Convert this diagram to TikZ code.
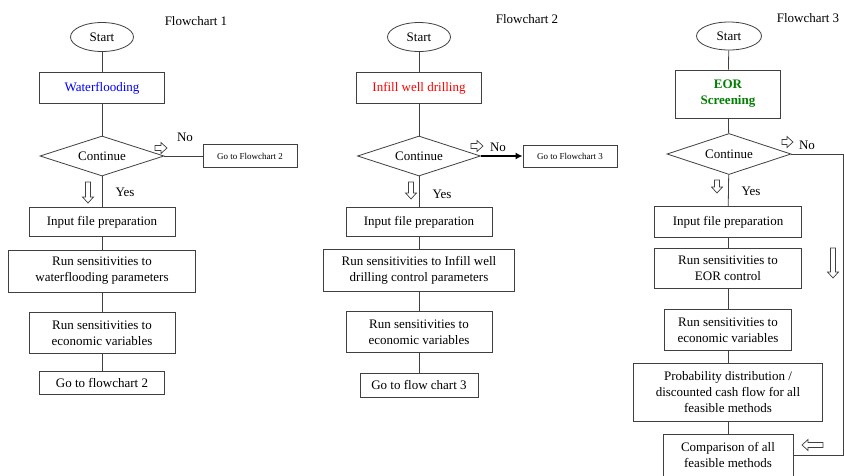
\documentclass[tikz,border=0pt]{standalone}
\usepackage{fontspec}
\setmainfont{Liberation Serif}
\usetikzlibrary{shapes.geometric,arrows.meta}
\definecolor{eorgreen}{RGB}{0,128,0}
\tikzset{
  txt/.style={font=\fontsize{13}{16}\selectfont},
  small/.style={font=\fontsize{9}{10}\selectfont},
  box/.style={draw=black!75, line width=0.8pt, rectangle, align=center, inner sep=1pt, txt},
  term/.style={draw=black!75, line width=0.8pt, ellipse, inner sep=0pt, minimum width=63pt, minimum height=29pt, txt},
  decision/.style={draw=black!75, line width=0.8pt, diamond, aspect=3, inner sep=0pt, minimum width=124pt, minimum height=40pt, txt},
  tag/.style={inner sep=0pt, txt},
  link/.style={draw=black!75, line width=0.8pt},
  harrow/.pic={\draw[draw=black!75, fill=white, line width=0.7pt] (0,-2.5) -- ({#1-6},-2.5) -- ({#1-6},-5.5) -- (#1,0) -- ({#1-6},5.5) -- ({#1-6},2.5) -- (0,2.5) -- cycle;}
}
\begin{document}
\begin{tikzpicture}[x=1pt,y=-1pt]
  \useasboundingbox[fill=white] (0,0) rectangle (844,475);

  \node[tag] (t1) at (196,21) {Flowchart 1};
  \node[term] (s1) at (102,37) {Start};
  \node[box, minimum width=125pt, minimum height=31pt, text=blue] (w1) at (102,88) {Waterflooding};
  \node[decision] (d1) at (102,156) {Continue};
  \node[box, small, minimum width=94pt, minimum height=23pt] (g1) at (250,156) {Go to Flowchart 2};
  \node[box, minimum width=146pt, minimum height=29pt] (i1) at (102,222) {Input file preparation};
  \node[box, minimum width=187pt, minimum height=42pt] (r1) at (102,271) {Run sensitivities to\\waterflooding parameters};
  \node[box, minimum width=146pt, minimum height=41pt] (e1) at (102,333) {Run sensitivities to\\economic variables};
  \node[box, minimum width=125pt, minimum height=23pt] (f1) at (102,383) {Go to flowchart 2};
  \node[tag] (n1) at (185,137) {No};
  \node[tag] (y1) at (125,192) {Yes};
  \draw[link] (s1) -- (w1);
  \draw[link] (w1) -- (d1);
  \draw[link] (d1) -- (i1);
  \draw[link] (i1) -- (r1);
  \draw[link] (r1) -- (e1);
  \draw[link] (e1) -- (f1);
  \draw[link] (d1.east) -- (g1.west);
  \pic[rotate=-90] at (88,182) {harrow=21};
  \pic at (155,148) {harrow=12};

  \node[tag] (t2) at (527,19) {Flowchart 2};
  \node[term] (s2) at (419,37) {Start};
  \node[box, minimum width=125pt, minimum height=31pt, text=red] (w2) at (419,88) {Infill well drilling};
  \node[decision, minimum width=123pt] (d2) at (419,156) {Continue};
  \node[box, small, minimum width=94pt, minimum height=22pt] (g2) at (570,156) {Go to Flowchart 3};
  \node[box, minimum width=146pt, minimum height=29pt] (i2) at (419,222) {Input file preparation};
  \node[box, minimum width=191pt, minimum height=42pt] (r2) at (419,270) {Run sensitivities to Infill well\\drilling control parameters};
  \node[box, minimum width=146pt, minimum height=41pt] (e2) at (419,332) {Run sensitivities to\\economic variables};
  \node[box, minimum width=118pt, minimum height=24pt] (f2) at (419,385) {Go to flow chart 3};
  \node[tag] (n2) at (498,147) {No};
  \node[tag] (y2) at (442,194) {Yes};
  \draw[link] (s2) -- (w2);
  \draw[link] (w2) -- (d2);
  \draw[link] (d2) -- (i2);
  \draw[link] (i2) -- (r2);
  \draw[link] (r2) -- (e2);
  \draw[link] (e2) -- (f2);
  \draw[link, draw=black, line width=1.5pt, -{Latex[length=7pt,width=7pt]}] (d2.east) -- (g2.west);
  \pic[rotate=-90] at (411,182) {harrow=17};
  \pic at (471,146) {harrow=12};

  \node[tag] (t3) at (808,18) {Flowchart 3};
  \node[term, minimum width=65pt, minimum height=28pt] (s3) at (729,36) {Start};
  \node[box, minimum width=105pt, minimum height=48pt, text=eorgreen, font=\fontsize{13}{16}\selectfont\bfseries] (w3) at (728,94) {EOR\\Screening};
  \node[decision, minimum height=41pt] (d3) at (729,154) {Continue};
  \node[box, minimum width=147pt, minimum height=31pt] (i3) at (728,222) {Input file preparation};
  \node[box, minimum width=147pt, minimum height=40pt] (r3) at (728,268) {Run sensitivities to\\EOR control};
  \node[box, minimum width=127pt, minimum height=41pt] (e3) at (728,330) {Run sensitivities to\\economic variables};
  \node[box, minimum width=189pt, minimum height=58pt] (p3) at (728,392) {Probability distribution /\\discounted cash flow for all\\feasible methods};
  \node[box, minimum width=130pt, minimum height=42pt] (c3) at (728,455) {Comparison of all\\feasible methods};
  \node[tag] (n3) at (807,145) {No};
  \node[tag] (y3) at (751,191) {Yes};
  \coordinate (k3) at (843,154);
  \draw[link] (s3) -- (w3);
  \draw[link] (w3) -- (d3);
  \draw[link] (d3) -- (i3);
  \draw[link] (i3) -- (r3);
  \draw[link] (r3) -- (e3);
  \draw[link] (e3) -- (p3);
  \draw[link] (p3) -- (c3);
  \draw[link] (d3.east) -- (k3) |- (c3.east);
  \pic[rotate=-90] at (717,180) {harrow=13};
  \pic[rotate=-90] at (833,248) {harrow=30};
  \pic at (782,142) {harrow=11};
  \pic[rotate=180] at (823,445) {harrow=21};
\end{tikzpicture}
\end{document}
